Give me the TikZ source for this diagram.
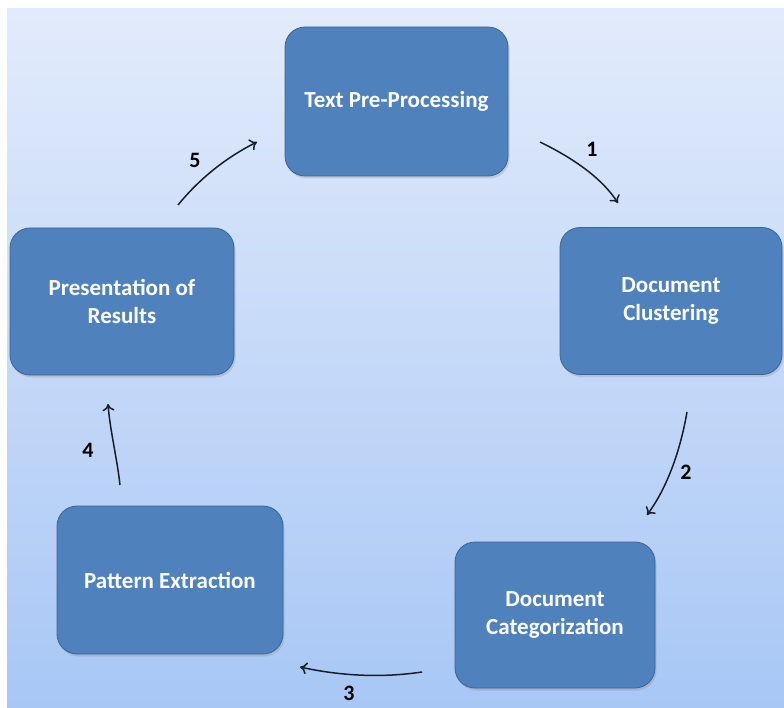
\documentclass[tikz,border=0pt]{standalone}
\usepackage{fontspec}
\setmainfont{Carlito}
\usetikzlibrary{arrows.meta,shadows}
\definecolor{boxfill}{RGB}{79,129,189}
\definecolor{boxline}{RGB}{60,100,150}
\definecolor{bgtop}{RGB}{226,235,251}
\definecolor{bgbot}{RGB}{168,199,245}
\definecolor{arrowcol}{RGB}{25,30,45}
\tikzset{
  stagebox/.style={draw=boxline, line width=0.8pt, fill=boxfill, rounded corners=20pt,
    text=white, font=\fontsize{23}{28}\selectfont\bfseries, align=center,
    drop shadow={opacity=0.25, shadow xshift=1.5pt, shadow yshift=-2.5pt}},
  flowarrow/.style={draw=arrowcol, line width=1.5pt, -{To[length=7pt,width=12pt]}},
  numlabel/.style={font=\fontsize{22}{26}\selectfont\bfseries, text=black}
}
\begin{document}
\begin{tikzpicture}[x=1pt,y=-1pt]
\useasboundingbox (0,0) rectangle (784,708);
\fill[white] (0,0) rectangle (784,708);
\shade[top color=bgtop, bottom color=bgbot] (7,9) rectangle (784,708);

\node[stagebox, minimum width=223pt, minimum height=149pt] (tpp) at (396.5,101.5) {Text Pre-Processing};
\node[stagebox, minimum width=222pt, minimum height=147pt] (dcl) at (671,301) {Document\\Clustering};
\node[stagebox, minimum width=200pt, minimum height=146pt] (dca) at (555,615) {Document\\Categorization};
\node[stagebox, minimum width=226pt, minimum height=148pt] (pex) at (170,580) {Pattern Extraction};
\node[stagebox, minimum width=224pt, minimum height=147pt] (por) at (122,301.5) {Presentation of\\Results};

\coordinate (a1s) at (540,142); \coordinate (a1e) at (618,203);
\coordinate (a2s) at (687,412); \coordinate (a2e) at (647,515);
\coordinate (a3s) at (422,672); \coordinate (a3e) at (300,667);
\coordinate (a4s) at (120,485); \coordinate (a4e) at (108,404);
\coordinate (a5s) at (178,205); \coordinate (a5e) at (257,142);

\draw[flowarrow] (a1s) .. controls (577,160) and (603,180) .. (a1e);
\draw[flowarrow] (a2s) .. controls (679,458) and (664,492) .. (a2e);
\draw[flowarrow] (a3s) .. controls (382,678) and (341,676) .. (a3e);
\draw[flowarrow] (a4s) .. controls (117,458) and (110,430) .. (a4e);
\draw[flowarrow] (a5s) .. controls (200,178) and (227,157) .. (a5e);

\node[numlabel] (n1) at (592,149) {1};
\node[numlabel] (n2) at (686,472) {2};
\node[numlabel] (n3) at (349,693) {3};
\node[numlabel] (n4) at (88,450) {4};
\node[numlabel] (n5) at (195,160) {5};
\end{tikzpicture}
\end{document}
